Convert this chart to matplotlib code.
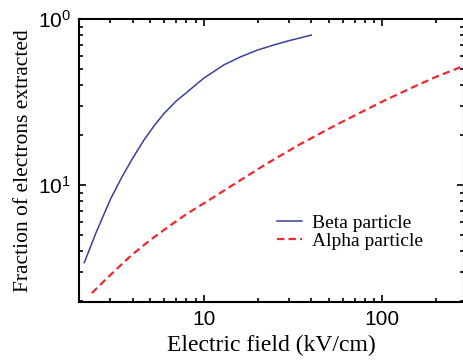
#!/usr/bin/env python3
"""Electron extraction fraction vs electric field (beta vs alpha)."""

import matplotlib
matplotlib.use('Agg')
import matplotlib.pyplot as plt
from matplotlib.ticker import FixedLocator, FixedFormatter, LogLocator, NullFormatter

# Beta particle curve
beta_field = [2.14, 2.5, 3.0, 3.5, 4.0, 4.6, 5.3, 6.0, 7.0, 8.0, 10.0, 13.0,
              16.0, 20.0, 25.0, 30.0, 40.0]
beta_frac = [0.034, 0.052, 0.082, 0.113, 0.145, 0.185, 0.229, 0.27, 0.32, 0.36,
             0.44, 0.53, 0.59, 0.65, 0.70, 0.74, 0.80]

# Alpha particle curve
alpha_field = [2.36, 3.0, 3.91, 5.0, 6.55, 8.0, 10.9, 15.0, 22.7, 35.0, 53.5,
               70.0, 100.0, 150.0, 200.0, 290.0]
alpha_frac = [0.0223, 0.0287, 0.0375, 0.0465, 0.0574, 0.0667, 0.082, 0.102,
              0.135, 0.177, 0.226, 0.262, 0.318, 0.39, 0.448, 0.525]

y_ticks = [0.1, 1.0]
y_tick_labels = ['$10^{1}$', '$10^{0}$']
x_ticks = [10, 100]
x_tick_labels = ['10', '100']

plt.rcParams['mathtext.fontset'] = 'custom'
plt.rcParams['mathtext.rm'] = 'Liberation Sans'
plt.rcParams['mathtext.it'] = 'Liberation Sans'

serif = 'Liberation Serif'
sans = 'Liberation Sans'

fig = plt.figure(figsize=(4.64, 3.62), dpi=100)
ax = fig.add_axes([79 / 464, 1 - 302 / 362, 1 - 79 / 464, (302 - 19) / 362])

ax.plot(beta_field, beta_frac, color='#3b3f9e', lw=1.1, label='Beta particle')
ax.plot(alpha_field, alpha_frac, color='#f0282d', lw=1.6, dashes=(3.3, 1.9),
        label='Alpha particle')

ax.set_xscale('log')
ax.set_yscale('log')
ax.set_xlim(2, 287)
ax.set_ylim(0.0197, 1.0)

ax.xaxis.set_major_locator(FixedLocator(x_ticks))
ax.xaxis.set_major_formatter(FixedFormatter(x_tick_labels))
ax.xaxis.set_minor_locator(LogLocator(base=10, subs=range(2, 10), numticks=20))
ax.xaxis.set_minor_formatter(NullFormatter())
ax.yaxis.set_major_locator(FixedLocator(y_ticks))
ax.yaxis.set_major_formatter(FixedFormatter(y_tick_labels))
ax.yaxis.set_minor_locator(LogLocator(base=10, subs=range(2, 10), numticks=20))
ax.yaxis.set_minor_formatter(NullFormatter())

ax.tick_params(which='both', direction='in', top=True, right=True, width=1.2)
ax.tick_params(which='major', length=5, labelsize=15, pad=6)
ax.tick_params(which='minor', length=3)
for lab in ax.get_xticklabels() + ax.get_yticklabels():
    lab.set_fontfamily(sans)
for sp in ax.spines.values():
    sp.set_linewidth(1.5)

ax.set_xlabel('Electric field (kV/cm)', fontsize=17, family=serif, labelpad=4)
ax.set_ylabel('Fraction of electrons extracted', fontsize=15.5, family=serif, labelpad=3)

ax.legend(loc='center left', bbox_to_anchor=(0.514, 0.247), frameon=False,
          prop={'family': serif, 'size': 14}, handlelength=1.3,
          handletextpad=0.5, labelspacing=0.0, borderpad=0, borderaxespad=0)

fig.savefig('out.png', dpi=100)
